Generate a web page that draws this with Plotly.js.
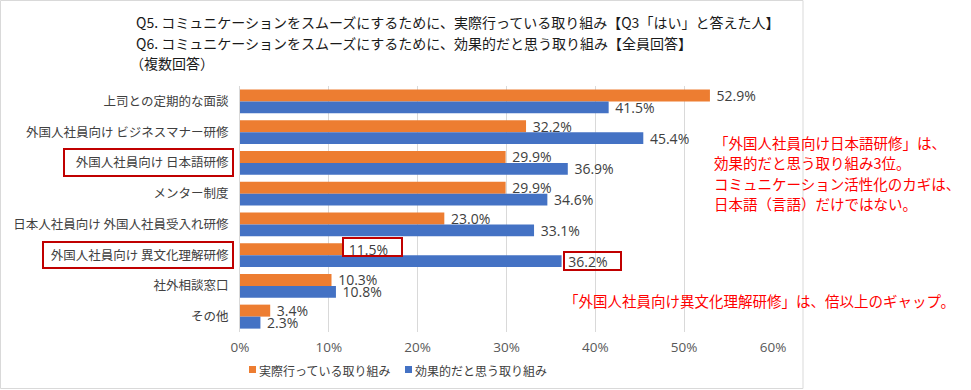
<!DOCTYPE html>
<html>
<head>
<meta charset="utf-8">
<script src="https://cdn.plot.ly/plotly-3.0.1.min.js"></script>
<style>html,body{margin:0;padding:0;background:#fff;}#chart{width:971px;height:390px;}</style>
</head>
<body>
<div id="chart"></div>
<script>
const categories = [
  "上司との定期的な面談",
  "外国人社員向け ビジネスマナー研修",
  "外国人社員向け 日本語研修",
  "メンター制度",
  "日本人社員向け 外国人社員受入れ研修",
  "外国人社員向け 異文化理解研修",
  "社外相談窓口",
  "その他"
];
const actualValues = [52.9, 32.2, 29.9, 29.9, 23.0, 11.5, 10.3, 3.4];
const effectiveValues = [41.5, 45.4, 36.9, 34.6, 33.1, 36.2, 10.8, 2.3];
const seriesNames = ["実際行っている取り組み", "効果的だと思う取り組み"];
const seriesColors = ["#ED7D31", "#4472C4"];
const xTickValues = [0, 10, 20, 30, 40, 50, 60];
const xTickLabels = ["0%", "10%", "20%", "30%", "40%", "50%", "60%"];

const titleLines = [
  "Q5. コミュニケーションをスムーズにするために、実際行っている取り組み【Q3「はい」と答えた人】",
  "Q6. コミュニケーションをスムーズにするために、効果的だと思う取り組み【全員回答】",
  "（複数回答）"
];
const noteLines = [
  "「外国人社員向け日本語研修」は、",
  "効果的だと思う取り組み3位。",
  "コミュニケーション活性化のカギは、",
  "日本語（言語）だけではない。"
];
const note2 = "「外国人社員向け異文化理解研修」は、倍以上のギャップ。";

const W = 971, H = 390;
const M = {l: 240, r: 198, t: 86, b: 58};
const PW = W - M.l - M.r, PH = H - M.t - M.b;
const px = v => (v - M.l) / PW;
const py = v => (H - M.b - v) / PH;

const FONT = '"Noto Sans CJK JP", "Noto Sans", sans-serif';
const NUMFONT = '"Open Sans", "Noto Sans", sans-serif';

const traces = [actualValues, effectiveValues].map((vals, i) => ({
  type: 'bar', orientation: 'h', name: seriesNames[i],
  y: categories, x: vals,
  marker: {color: seriesColors[i]},
  texttemplate: '\u00a0%{x:.1f}%', textposition: 'outside', cliponaxis: false,
  constraintext: 'none',
  textfont: {family: NUMFONT, size: 14, color: '#404040'},
  hoverinfo: 'skip', showlegend: false
}));

const annotations = [];
const titleY = [22, 43, 63];
const titleX = [134, 134, 128];
titleLines.forEach((t, i) => annotations.push({
  xref: 'paper', yref: 'paper', x: px(titleX[i]), y: py(titleY[i]),
  xanchor: 'left', yanchor: 'middle', showarrow: false, align: 'left',
  text: t, font: {family: FONT, size: 14, color: '#1a1a1a'}
}));
const noteY = [142, 162, 183, 203];
noteLines.forEach((t, i) => annotations.push({
  xref: 'paper', yref: 'paper', x: px(712), y: py(noteY[i]),
  xanchor: 'left', yanchor: 'middle', showarrow: false, align: 'left',
  text: t, font: {family: FONT, size: 14.5, color: '#FF0000'}
}));
annotations.push({
  xref: 'paper', yref: 'paper', x: px(562), y: py(300),
  xanchor: 'left', yanchor: 'middle', showarrow: false, align: 'left',
  text: note2, font: {family: FONT, size: 14.5, color: '#FF0000'}
});

const redBox = (x0, y0, x1, y1) => ({
  type: 'rect', xref: 'paper', yref: 'paper',
  x0: px(x0), x1: px(x1), y0: py(y0), y1: py(y1),
  line: {color: '#C00000', width: 2}, fillcolor: 'rgba(0,0,0,0)', layer: 'above'
});

const shapes = [
  {type: 'rect', xref: 'paper', yref: 'paper',
   x0: px(0.5), x1: px(803), y0: py(0.5), y1: py(388.5),
   line: {color: '#d9d9d9', width: 1}, fillcolor: 'rgba(0,0,0,0)', layer: 'below'},
  redBox(64, 149, 233, 176),
  redBox(43, 242, 233, 268),
  redBox(343, 238, 402, 256),
  redBox(564, 252, 621, 270)
];

// custom legend (small squares like the reference)
const legendX = [249, 405];
seriesNames.forEach((n, i) => {
  shapes.push({
    type: 'rect', xref: 'paper', yref: 'paper',
    x0: px(legendX[i]), x1: px(legendX[i] + 7), y0: py(366), y1: py(373),
    line: {width: 0}, fillcolor: seriesColors[i]
  });
  annotations.push({
    xref: 'paper', yref: 'paper', x: px(legendX[i] + 8), y: py(370),
    xanchor: 'left', yanchor: 'middle', showarrow: false,
    text: n, font: {family: FONT, size: 12, color: '#404040'}
  });
});

const layout = {
  width: W, height: H,
  margin: M,
  paper_bgcolor: '#fff', plot_bgcolor: '#fff',
  barmode: 'group', bargap: 0.22, bargroupgap: 0,
  font: {family: FONT, color: '#404040'},
  showlegend: false,
  xaxis: {
    range: [0, 60], tickmode: 'array', tickvals: xTickValues, ticktext: xTickLabels,
    showgrid: true, gridcolor: '#d9d9d9', gridwidth: 1,
    zeroline: false, showline: false, ticks: '', ticklabelstandoff: 5,
    tickfont: {family: NUMFONT, size: 13.5, color: '#595959'},
    fixedrange: true
  },
  yaxis: {
    type: 'category', autorange: 'reversed',
    showline: true, linecolor: '#d9d9d9', linewidth: 1,
    showgrid: false, ticks: '', ticklabelstandoff: 8,
    tickfont: {family: FONT, size: 12.5, color: '#404040'},
    fixedrange: true
  },
  annotations: annotations,
  shapes: shapes
};

Plotly.newPlot('chart', traces, layout, {staticPlot: true, displayModeBar: false});
</script>
</body>
</html>
